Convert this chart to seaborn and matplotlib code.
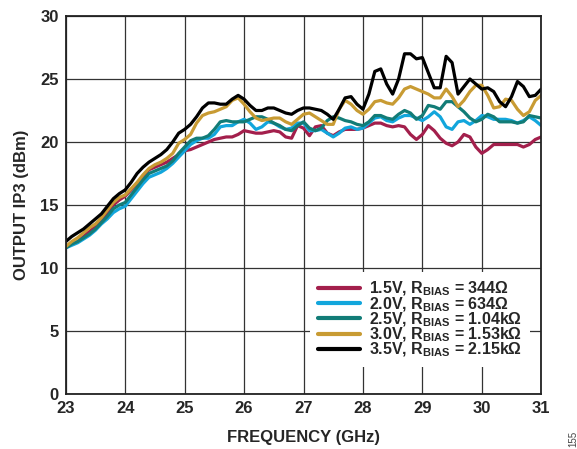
import numpy as np
import pandas as pd
import seaborn as sns
import matplotlib.pyplot as plt

# frequency grid (GHz)
freq = np.round(np.arange(23.0, 31.01, 0.1), 1)

ip3_15v = [11.6, 11.9, 12.1, 12.5, 12.9, 13.3, 13.7, 14.3, 15.0, 15.4,
           15.7, 16.2, 16.7, 17.3, 17.8, 18.0, 18.2, 18.4, 18.7, 19.0,
           19.3, 19.4, 19.6, 19.8, 20.0, 20.2, 20.3, 20.4, 20.4, 20.6,
           20.9, 20.8, 20.7, 20.7, 20.8, 20.9, 20.8, 20.4, 20.3, 21.3,
           21.1, 20.5, 21.2, 21.3, 20.7, 20.5, 20.8, 21.0, 21.0, 21.0,
           21.1, 21.3, 21.5, 21.5, 21.3, 21.2, 21.3, 21.2, 20.6, 20.2,
           20.6, 21.3, 20.9, 20.3, 19.9, 19.7, 20.0, 20.6, 20.4, 19.6,
           19.1, 19.4, 19.8, 19.8, 19.8, 19.8, 19.8, 19.6, 19.8, 20.2,
           20.4]

ip3_20v = [11.6, 11.8, 12.0, 12.3, 12.6, 13.0, 13.5, 13.9, 14.4, 14.7,
           14.9, 15.5, 16.1, 16.7, 17.2, 17.4, 17.6, 17.9, 18.3, 18.8,
           19.3, 19.8, 20.1, 20.3, 20.3, 20.6, 21.2, 21.3, 21.3, 21.6,
           21.8, 21.5, 21.0, 21.2, 21.6, 21.5, 21.2, 21.0, 21.1, 21.5,
           21.5, 20.9, 20.9, 21.0, 20.7, 20.4, 20.7, 21.1, 21.2, 21.0,
           21.1, 21.5, 21.9, 22.0, 21.7, 21.6, 21.9, 22.1, 22.1, 21.9,
           21.7, 22.0, 22.4, 22.0, 21.2, 21.0, 21.6, 21.7, 21.4, 21.7,
           22.1, 22.0, 21.8, 21.8, 21.8, 21.7, 21.5, 21.7, 22.0, 21.7,
           21.3]

ip3_25v = [11.6, 11.9, 12.1, 12.4, 12.7, 13.1, 13.6, 14.1, 14.7, 15.0,
           15.2, 15.8, 16.4, 17.0, 17.5, 17.7, 17.9, 18.1, 18.5, 19.1,
           19.6, 20.1, 20.3, 20.3, 20.5, 21.0, 21.6, 21.7, 21.6, 21.6,
           21.6, 21.8, 22.0, 22.0, 21.8, 21.5, 21.3, 21.0, 20.9, 21.3,
           21.6, 21.1, 20.9, 21.1, 21.7, 22.0, 21.9, 21.7, 21.6, 21.4,
           21.3, 21.6, 22.1, 22.1, 21.9, 21.8, 22.2, 22.5, 22.3, 21.8,
           22.1, 22.9, 22.8, 22.6, 23.2, 23.2, 22.8, 22.4, 21.9, 21.6,
           21.8, 22.2, 22.0, 21.6, 21.6, 21.6, 21.5, 21.6, 22.1, 22.0,
           21.9]

ip3_30v = [11.7, 12.1, 12.4, 12.8, 13.2, 13.5, 14.0, 14.6, 15.2, 15.6,
           15.8, 16.3, 16.8, 17.4, 17.9, 18.2, 18.4, 18.7, 19.1, 19.9,
           20.2, 20.6, 21.5, 22.1, 22.3, 22.4, 22.6, 22.8, 23.3, 23.5,
           23.0, 22.4, 21.9, 21.7, 21.8, 21.9, 21.9, 21.6, 21.4, 21.8,
           22.2, 22.3, 22.0, 21.7, 21.4, 21.4, 22.6, 23.3, 23.0, 22.5,
           22.2, 22.6, 23.2, 23.3, 23.1, 23.0, 23.5, 24.2, 24.4, 24.2,
           24.0, 23.8, 23.5, 23.5, 24.2, 23.6, 22.8, 23.3, 24.0, 24.5,
           24.5, 23.7, 22.7, 22.8, 23.4, 23.3, 22.6, 22.1, 22.4, 23.3,
           23.7]

ip3_35v = [12.1, 12.5, 12.8, 13.1, 13.5, 13.9, 14.3, 14.9, 15.5, 15.9,
           16.2, 16.8, 17.5, 18.0, 18.4, 18.7, 19.0, 19.4, 20.0, 20.7,
           21.0, 21.4, 22.0, 22.7, 23.1, 23.1, 23.0, 23.0, 23.4, 23.7,
           23.4, 22.9, 22.5, 22.5, 22.7, 22.7, 22.5, 22.3, 22.2, 22.5,
           22.7, 22.7, 22.6, 22.5, 22.2, 21.8, 22.6, 23.5, 23.6, 23.0,
           22.6, 23.8, 25.6, 25.8, 24.6, 23.8, 25.0, 27.0, 27.0, 26.6,
           26.7, 25.5, 24.3, 24.3, 26.8, 26.3, 23.8, 24.4, 25.0, 24.6,
           24.2, 24.3, 24.0, 23.2, 22.8, 23.6, 24.8, 24.4, 23.6, 23.7,
           24.2]

labels = [r"1.5V, R$_{BIAS}$ = 344Ω",
          r"2.0V, R$_{BIAS}$ = 634Ω",
          r"2.5V, R$_{BIAS}$ = 1.04kΩ",
          r"3.0V, R$_{BIAS}$ = 1.53kΩ",
          r"3.5V, R$_{BIAS}$ = 2.15kΩ"]
colors = ["#A31F4C", "#12A6DC", "#127C77", "#C89B33", "#000000"]
series = [ip3_15v, ip3_20v, ip3_25v, ip3_30v, ip3_35v]

df = pd.concat(
    [pd.DataFrame({"freq": freq, "ip3": vals, "label": lab})
     for lab, vals in zip(labels, series)],
    ignore_index=True
)

sns.set_style("white")
plt.rcParams["font.family"] = ["Liberation Sans", "DejaVu Sans"]
plt.rcParams["font.weight"] = "bold"
plt.rcParams["mathtext.fontset"] = "custom"
plt.rcParams["mathtext.rm"] = "Liberation Sans:bold"
plt.rcParams["mathtext.bf"] = "Liberation Sans:bold"
plt.rcParams["mathtext.default"] = "bf"

fig, ax = plt.subplots(figsize=(5.77, 4.49), dpi=100)
fig.subplots_adjust(left=0.114, right=0.938, bottom=0.1225, top=0.9644)

sns.lineplot(
    data=df, x="freq", y="ip3", hue="label",
    hue_order=labels, palette=colors, linewidth=2.3, ax=ax
)

ax.set_xlim(23, 31)
ax.set_ylim(0, 30)
ax.set_xticks(range(23, 32))
ax.set_yticks(range(0, 31, 5))
ax.grid(True, color="#333333", linewidth=0.9)
ax.tick_params(length=0, labelsize=12, pad=5)
for lab in ax.get_xticklabels() + ax.get_yticklabels():
    lab.set_fontweight("bold")
for sp in ax.spines.values():
    sp.set_color("#222222")
    sp.set_linewidth(1.3)

ax.set_xlabel("FREQUENCY (GHz)", fontsize=12, fontweight="bold", labelpad=10)
ax.set_ylabel("OUTPUT IP3 (dBm)", fontsize=12, fontweight="bold", labelpad=8)

# legend sits on a white patch with no visible border
leg = ax.legend(
    loc="lower right", bbox_to_anchor=(0.977, 0.071), borderaxespad=0,
    fontsize=11.5, handlelength=2.6, handletextpad=0.6, labelspacing=-0.2,
    frameon=True, fancybox=False, borderpad=0.5
)
leg.get_frame().set_edgecolor("white")
leg.get_frame().set_linewidth(0)
leg.get_frame().set_alpha(1)
for line in leg.get_lines():
    line.set_linewidth(3)
for t in leg.get_texts():
    t.set_fontweight("bold")

fig.text(0.993, 0.005, "155", rotation=90, fontsize=7, color="#444444",
         fontweight="normal", ha="center", va="bottom")

plt.savefig("out.png", dpi=100)
plt.close()
